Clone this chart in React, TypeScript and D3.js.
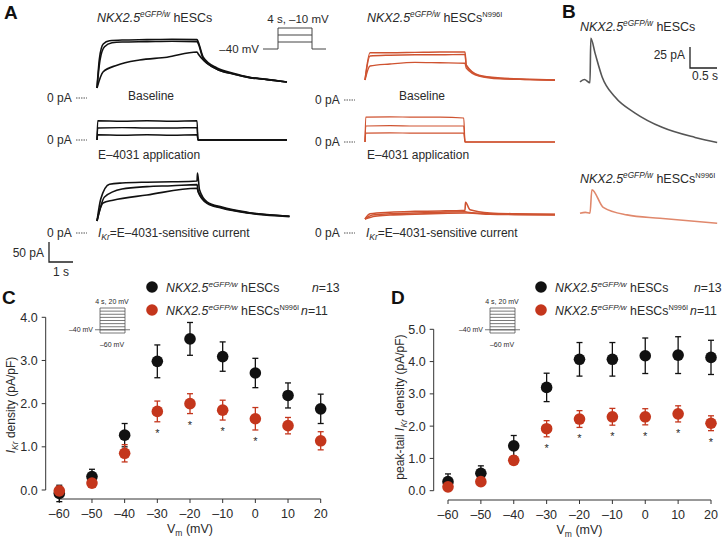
import React from "react";
import * as d3 from "d3";

// ---- panel C / D data ----
const voltages = [-60, -50, -40, -30, -20, -10, 0, 10, 20];
const ikrWT = [-0.08, 0.31, 1.27, 2.98, 3.5, 3.09, 2.71, 2.19, 1.88];
const ikrWTErr = [0.19, 0.17, 0.27, 0.38, 0.38, 0.34, 0.34, 0.29, 0.34];
const ikrMut = [-0.02, 0.16, 0.85, 1.82, 2.0, 1.85, 1.65, 1.49, 1.14];
const ikrMutErr = [0.1, 0.08, 0.2, 0.24, 0.23, 0.23, 0.26, 0.19, 0.21];
const ikrSig = [false, false, false, true, true, true, true, false, false];
const tailWT = [0.28, 0.54, 1.39, 3.2, 4.07, 4.07, 4.18, 4.2, 4.13];
const tailWTErr = [0.24, 0.23, 0.32, 0.44, 0.52, 0.52, 0.55, 0.57, 0.53];
const tailMut = [0.12, 0.28, 0.94, 1.92, 2.22, 2.29, 2.29, 2.38, 2.09];
const tailMutErr = [0.1, 0.06, 0.12, 0.25, 0.26, 0.26, 0.25, 0.25, 0.23];
const tailSig = [false, false, false, true, true, true, true, true, true];
const ikrTicks = [0, 1, 2, 3, 4];
const tailTicks = [0, 1, 2, 3, 4, 5];
const protocolSteps = [-60, -50, -40, -30, -20, -10, 0, 10, 20];
const protocolStepsA = [-30, -20, -10];

// ---- panel A traces: [time s, current pA] ----
const wtBase = [
  [[0, 25], [0.1, 100], [0.25, 135], [0.5, 143], [1, 145], [2, 146], [3, 147], [4, 146], [4.05, 140], [4.25, 102], [4.8, 75], [5.45, 62], [6.1, 52], [6.8, 47], [7.6, 40]],
  [[0, 25], [0.12, 95], [0.3, 128], [0.6, 138], [1, 140], [2, 141], [3, 142], [4, 141], [4.05, 136], [4.25, 98], [4.8, 72], [5.45, 60], [6.1, 51], [6.8, 46], [7.6, 40]],
  [[0, 25], [0.24, 65], [0.8, 82], [1.7, 95], [2.8, 102], [4, 115], [4.05, 110], [4.3, 92], [4.8, 72], [5.45, 60], [6.1, 51], [6.8, 46], [7.6, 40]],
];
const wtE4031 = [
  [[0, 0], [0.03, 48], [1, 47], [2, 48], [3, 47], [4, 48], [4.04, 0], [7.6, 0]],
  [[0, 0], [0.03, 30], [1, 31], [2, 30], [3, 30], [4, 31], [4.04, 0], [7.6, 0]],
  [[0, 0], [0.03, 13], [1, 12], [2, 13], [3, 12], [4, 13], [4.04, 0], [7.6, 0]],
];
const wtIkr = [
  [[0, 30], [0.15, 85], [0.5, 122], [1, 125], [2, 127], [3, 128], [4, 130], [4.02, 150], [4.1, 108], [4.4, 78], [5.0, 65], [6.0, 52], [7.7, 42]],
  [[0, 30], [0.3, 90], [1, 110], [2, 116], [3, 118], [4, 121], [4.05, 104], [4.4, 76], [5.0, 63], [6.0, 51], [7.7, 42]],
  [[0, 30], [0.24, 75], [0.64, 82], [2, 95], [4, 112], [4.05, 102], [4.4, 74], [5.0, 62], [6.0, 50], [7.7, 41]],
];
const mutBase = [
  [[0, 50], [0.2, 118], [1, 118], [2, 119], [3, 120], [4, 120], [4.05, 88], [4.56, 62], [5.4, 55], [6.6, 52], [7.6, 50]],
  [[0, 50], [0.2, 110], [1, 112], [2, 113], [3, 113], [4, 114], [4.05, 86], [4.56, 61], [5.4, 54], [6.6, 51], [7.6, 50]],
  [[0, 50], [0.2, 85], [1, 90], [2, 94], [3, 93], [4, 92], [4.05, 80], [4.56, 60], [5.4, 53], [6.6, 51], [7.6, 49]],
];
const mutE4031 = [
  [[0, 0], [0.03, 62], [1, 63], [2, 62], [3, 62], [3.95, 60], [4, 0], [7.6, 0]],
  [[0, 0], [0.03, 40], [1, 41], [2, 40], [3, 40], [3.95, 40], [4, 0], [7.6, 0]],
  [[0, 0], [0.03, 22], [1, 23], [2, 22], [3, 22], [3.95, 22], [4, 0], [7.6, 0]],
];
const mutIkr = [
  [[0, 35], [0.2, 48], [1, 52], [2, 54], [3, 55], [4, 57], [4.02, 77], [4.2, 58], [5, 50], [6, 48], [7.6, 47]],
  [[0, 35], [0.3, 45], [1, 48], [2, 50], [3, 52], [4, 53], [4.1, 52], [5, 48], [6, 47], [7.6, 46]],
  [[0, 35], [0.4, 42], [1, 45], [2, 47], [3, 49], [4, 50], [4.1, 50], [5, 47], [6, 46], [7.6, 45]],
];
// ---- panel B tail traces ----
const tailTraceWT = [[0, 81], [0.08, 84], [0.185, 80], [0.2, 133], [0.28, 115], [0.41, 87], [0.65, 63], [1.02, 44], [1.52, 27], [2.13, 15], [2.54, 9]];
const tailTraceMut = [[0, 20], [0.1, 21], [0.185, 20], [0.22, 48], [0.43, 27], [0.87, 18], [1.48, 14], [2.54, 8]];

const FONT = "'Liberation Sans', Arial, Helvetica, sans-serif";
const TXT = "#2a2a2a";
const BLK = "#111";
const RED = "#c4361c";
const RED_TR = "#cf5331";

function Geno({ x, y, mut, size = 12.5, n }: any) {
  return (
    <text x={x} y={y} fontSize={size} fill={TXT}>
      <tspan fontStyle="italic">NKX2.5</tspan>
      <tspan fontStyle="italic" fontSize={size * 0.66} dy={-size * 0.38}>eGFP/w</tspan>
      <tspan dy={size * 0.38}> hESCs</tspan>
      {mut && <tspan fontSize={size * 0.6} dy={-size * 0.38}>N996I</tspan>}
      {n && mut && <tspan dy={size * 0.38} dx={2} fontStyle="italic">n</tspan>}
      {n && mut && <tspan>={n}</tspan>}
    </text>
  );
}

function Traces({ sets, x0, zeroY, color, width = 1.3 }: any) {
  const x = d3.scaleLinear().domain([0, 1]).range([x0, x0 + 25]);
  const y = d3.scaleLinear().domain([0, 50]).range([zeroY, zeroY - 20]);
  const line = d3.line<any>().x((d) => x(d[0])).y((d) => y(d[1])).curve(d3.curveMonotoneX);
  return (
    <g>
      {sets.map((s: any, i: number) => (
        <path key={i} d={line(s) || ""} fill="none" stroke={color} strokeWidth={width} strokeLinejoin="round" />
      ))}
    </g>
  );
}

function ZeroLabel({ x, y }: any) {
  return (
    <g>
      <text x={x} y={y + 4} fontSize={12} fill={TXT}>0 pA</text>
      <line x1={x + 29} x2={x + 40} y1={y} y2={y} stroke="#555" strokeWidth={1} strokeDasharray="1.5,1" />
    </g>
  );
}

function IkrText({ x, y }: any) {
  return (
    <text x={x} y={y} fontSize={12} fill={TXT}>
      <tspan fontStyle="italic">I</tspan>
      <tspan fontStyle="italic" fontSize={8.5} dy={3}>Kr</tspan>
      <tspan dy={-3}>=E–4031-sensitive current</tspan>
    </text>
  );
}

function ProtocolA() {
  const v = d3.scaleLinear().domain([-40, -10]).range([49, 28]);
  const xa = 263, xb = 278, xc = 312, xd = 326;
  return (
    <g stroke="#444" strokeWidth={1} fill="none">
      <line x1={xa} x2={xb} y1={v(-40)} y2={v(-40)} />
      <line x1={xc} x2={xd} y1={v(-40)} y2={v(-40)} />
      <line x1={xb} x2={xb} y1={v(-40)} y2={v(-10)} />
      <line x1={xc} x2={xc} y1={v(-40)} y2={v(-10)} />
      {protocolStepsA.map((s) => (
        <line key={s} x1={xb} x2={xc} y1={v(s)} y2={v(s)} />
      ))}
      <text x={298} y={23} fontSize={11.5} fill={TXT} stroke="none" textAnchor="middle">4 s, –10 mV</text>
      <text x={259} y={53} fontSize={11.5} fill={TXT} stroke="none" textAnchor="end">–40 mV</text>
    </g>
  );
}

function ProtocolIV({ x0 }: any) {
  const v = d3.scaleLinear().domain([-60, 20]).range([333, 308]);
  const xb = x0, xc = x0 + 25;
  return (
    <g stroke="#555" strokeWidth={0.8} fill="none">
      <line x1={xb - 5} x2={xc + 5} y1={v(-40) + 3} y2={v(-40) + 3} />
      <line x1={xb} x2={xb} y1={v(-60)} y2={v(20)} />
      <line x1={xc} x2={xc} y1={v(-60)} y2={v(20)} />
      {protocolSteps.map((s) => (
        <line key={s} x1={xb} x2={xc} y1={v(s)} y2={v(s)} />
      ))}
      <text x={xb + 12} y={304} fontSize={7} fill={TXT} stroke="none" textAnchor="middle">4 s, 20 mV</text>
      <text x={xb - 7} y={332} fontSize={7} fill={TXT} stroke="none" textAnchor="end">–40 mV</text>
      <text x={xb + 12} y={347} fontSize={7} fill={TXT} stroke="none" textAnchor="middle">–60 mV</text>
    </g>
  );
}

function IVPanel({ axisX, xr, y0, yTop, ymax, ticks, wt, wtErr, mut, mutErr, sig, xAxisY, labelY, peak }: any) {
  const x = d3.scaleLinear().domain([-60, 20]).range(xr);
  const y = d3.scaleLinear().domain([0, ymax]).range([y0, yTop]);
  const r = 5.8;
  const cap = 3;
  const bars = (vals: number[], errs: number[], col: string) =>
    voltages.map((v, i) => (
      <g key={i} stroke={col} strokeWidth={1.3}>
        <line x1={x(v)} x2={x(v)} y1={y(vals[i] - errs[i])} y2={y(vals[i] + errs[i])} />
        <line x1={x(v) - cap} x2={x(v) + cap} y1={y(vals[i] + errs[i])} y2={y(vals[i] + errs[i])} />
        <line x1={x(v) - cap} x2={x(v) + cap} y1={y(vals[i] - errs[i])} y2={y(vals[i] - errs[i])} />
      </g>
    ));
  const dots = (vals: number[], col: string) =>
    voltages.map((v, i) => <circle key={i} cx={x(v)} cy={y(vals[i])} r={r} fill={col} />);
  return (
    <g>
      {/* y axis */}
      <line x1={axisX} x2={axisX} y1={y(0)} y2={y(ymax)} stroke="#333" />
      {ticks.map((t: number) => (
        <g key={t}>
          <line x1={axisX - 4} x2={axisX} y1={y(t)} y2={y(t)} stroke="#333" />
          <text x={axisX - 8} y={y(t) + 4.5} fontSize={12.5} fill={TXT} textAnchor="end">{t.toFixed(1)}</text>
        </g>
      ))}
      {/* x axis */}
      <line x1={x(-60)} x2={x(20)} y1={xAxisY} y2={xAxisY} stroke="#333" />
      {voltages.map((v) => (
        <g key={v}>
          <line x1={x(v)} x2={x(v)} y1={xAxisY} y2={xAxisY + 4} stroke="#333" />
          <text x={x(v)} y={xAxisY + 18.5} fontSize={12.5} fill={TXT} textAnchor="middle">{v < 0 ? "–" + Math.abs(v) : v}</text>
        </g>
      ))}
      <text x={(xr[0] + xr[1]) / 2} y={xAxisY + 34} fontSize={12.5} fill={TXT} textAnchor="middle">
        V<tspan fontSize={8.5} dy={3}>m</tspan>
        <tspan dy={-3}> (mV)</tspan>
      </text>
      <text transform={`translate(${labelY[0]},${labelY[1]}) rotate(-90)`} fontSize={12} fill={TXT} textAnchor="middle">
        {peak ? "peak-tail " : ""}
        <tspan fontStyle="italic">I</tspan>
        <tspan fontStyle="italic" fontSize={8.5} dy={3}>Kr</tspan>
        <tspan dy={-3}> density (pA/pF)</tspan>
      </text>
      {bars(wt, wtErr, BLK)}
      {dots(wt, BLK)}
      {bars(mut, mutErr, RED)}
      {dots(mut, RED)}
      {voltages.map((v, i) =>
        sig[i] ? (
          <text key={i} x={x(v)} y={y(mut[i] - mutErr[i]) + 15} fontSize={11} fill={TXT} textAnchor="middle">*</text>
        ) : null
      )}
    </g>
  );
}

function Legend({ x, y1, y2, nx1 }: any) {
  return (
    <g>
      <circle cx={x} cy={y1} r={5.8} fill={BLK} />
      <circle cx={x} cy={y2} r={5.8} fill={RED} />
      <Geno x={x + 14} y={y1 + 4.5} size={12.3} />
      <Geno x={x + 14} y={y2 + 4.5} size={12.3} mut n={11} />
      <text x={nx1} y={y1 + 4.5} fontSize={12.3} fill={TXT}><tspan fontStyle="italic">n</tspan>=13</text>
    </g>
  );
}

export default function App() {
  const bx = d3.scaleLinear().domain([0, 0.5]).range([580, 607]);
  const byWT = d3.scaleLinear().domain([0, 25]).range([150, 129]);
  const byMut = d3.scaleLinear().domain([0, 25]).range([230, 209]);
  const bline = (ys: any) => d3.line<any>().x((d) => bx(d[0])).y((d) => ys(d[1])).curve(d3.curveMonotoneX);
  return (
    <svg width={724} height={543} style={{ position: "absolute", left: 0, top: 0, background: "#fff" }} fontFamily={FONT}>
      <rect width={724} height={543} fill="#fff" />
      {/* panel letters */}
      <text x={4} y={19} fontSize={19} fontWeight="bold" fill="#111">A</text>
      <text x={562} y={18} fontSize={19} fontWeight="bold" fill="#111">B</text>
      <text x={2} y={304} fontSize={19} fontWeight="bold" fill="#111">C</text>
      <text x={391} y={304} fontSize={19} fontWeight="bold" fill="#111">D</text>

      {/* panel A, wild type */}
      <Geno x={97} y={22} />
      <ProtocolA />
      <Traces sets={wtBase} x0={97} zeroY={98} color={BLK} width={1.6} />
      <text x={128} y={100} fontSize={12} fill={TXT}>Baseline</text>
      <ZeroLabel x={47} y={98} />
      <Traces sets={wtE4031} x0={97} zeroY={140} color={BLK} width={1.4} />
      <ZeroLabel x={47} y={140} />
      <text x={98} y={159} fontSize={12} fill={TXT}>E–4031 application</text>
      <Traces sets={wtIkr} x0={97} zeroY={233} color={BLK} width={1.6} />
      <ZeroLabel x={47} y={233} />
      <IkrText x={98} y={237} />
      {/* scale bar */}
      <path d="M49,242 V262 H73" fill="none" stroke="#222" strokeWidth={1.3} />
      <text x={44} y={257} fontSize={12} fill={TXT} textAnchor="end">50 pA</text>
      <text x={61} y={276} fontSize={12} fill={TXT} textAnchor="middle">1 s</text>

      {/* panel A, N996I */}
      <Geno x={367} y={22} mut />
      <Traces sets={mutBase} x0={365} zeroY={100} color={RED_TR} width={1.4} />
      <text x={399} y={100} fontSize={12} fill={TXT}>Baseline</text>
      <ZeroLabel x={315} y={100} />
      <Traces sets={mutE4031} x0={365} zeroY={142} color={RED_TR} width={1.2} />
      <ZeroLabel x={315} y={142} />
      <text x={367} y={159} fontSize={12} fill={TXT}>E–4031 application</text>
      <Traces sets={mutIkr} x0={365} zeroY={233} color={RED_TR} width={1.6} />
      <ZeroLabel x={315} y={233} />
      <IkrText x={366} y={237} />

      {/* panel B */}
      <Geno x={580} y={31} />
      <path d={bline(byWT)(tailTraceWT) || ""} fill="none" stroke="#555" strokeWidth={1.6} />
      <path d="M690,47 V68 H717" fill="none" stroke="#222" strokeWidth={1.3} />
      <text x={685} y={59} fontSize={12} fill={TXT} textAnchor="end">25 pA</text>
      <text x={705} y={80} fontSize={12} fill={TXT} textAnchor="middle">0.5 s</text>
      <Geno x={580} y={183} mut />
      <path d={bline(byMut)(tailTraceMut) || ""} fill="none" stroke="#e0886c" strokeWidth={1.6} />

      {/* panel C */}
      <ProtocolIV x0={100} />
      <Legend x={152} y1={287} y2={310} nx1={312} />
      <IVPanel axisX={45.7} xr={[59.3, 320.7]} y0={490} yTop={317.3} ymax={4} ticks={ikrTicks}
        wt={ikrWT} wtErr={ikrWTErr} mut={ikrMut} mutErr={ikrMutErr} sig={ikrSig} xAxisY={499} labelY={[15, 405]} />

      {/* panel D */}
      <ProtocolIV x0={490} />
      <Legend x={541} y1={287} y2={310} nx1={694} />
      <IVPanel axisX={433.7} xr={[448, 711]} y0={490.7} yTop={329.3} ymax={5} ticks={tailTicks}
        wt={tailWT} wtErr={tailWTErr} mut={tailMut} mutErr={tailMutErr} sig={tailSig} xAxisY={500} labelY={[404, 407]} peak />
    </svg>
  );
}
